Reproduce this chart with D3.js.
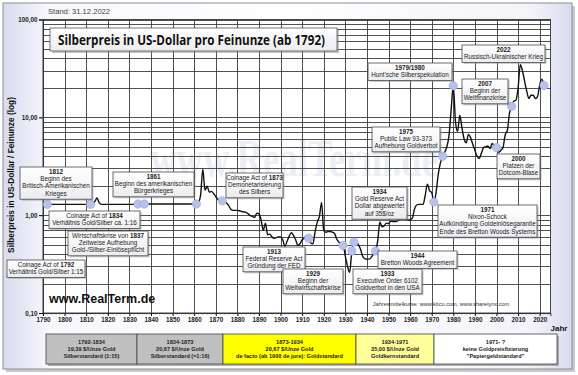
<!DOCTYPE html>
<html>
<head>
<meta charset="utf-8">
<script src="https://cdn.jsdelivr.net/npm/d3@7"></script>
<style>
body { margin: 0; background: #fff; }
svg text { font-family: "Liberation Sans", Arial, sans-serif; }
</style>
</head>
<body>
<svg id="chart" width="578" height="375"></svg>
<script>

// silver price, yearly averages (USD per troy ounce)
var years = [1792, 1800, 1810, 1813, 1814, 1815, 1816, 1817, 1825, 1833, 1834, 1845, 1855, 1861,
    1862, 1863, 1864, 1865, 1866, 1867, 1868, 1869, 1870, 1871, 1872, 1873, 1874, 1875, 1876, 1877,
    1878, 1879, 1880, 1881, 1882, 1883, 1884, 1885, 1886, 1887, 1888, 1889, 1890, 1891, 1892, 1893,
    1894, 1895, 1896, 1897, 1898, 1899, 1900, 1901, 1902, 1903, 1904, 1905, 1906, 1907, 1908, 1909,
    1910, 1911, 1912, 1913, 1914, 1915, 1916, 1917, 1918, 1919, 1920, 1921, 1922, 1923, 1924, 1925,
    1926, 1927, 1928, 1929, 1930, 1931, 1932, 1933, 1934, 1935, 1936, 1937, 1938, 1939, 1940, 1941,
    1942, 1943, 1944, 1945, 1946, 1947, 1948, 1949, 1950, 1951, 1952, 1953, 1954, 1955, 1956, 1957,
    1958, 1959, 1960, 1961, 1962, 1963, 1964, 1965, 1966, 1967, 1968, 1969, 1970, 1971, 1972, 1973,
    1974, 1975, 1976, 1977, 1978, 1979, 1980, 1981, 1982, 1983, 1984, 1985, 1986, 1987, 1988, 1989,
    1990, 1991, 1992, 1993, 1994, 1995, 1996, 1997, 1998, 1999, 2000, 2001, 2002, 2003, 2004, 2005,
    2006, 2007, 2008, 2009, 2010, 2011, 2012, 2013, 2014, 2015, 2016, 2017, 2018, 2019, 2020, 2021, 2022];
var prices = [1.29, 1.29, 1.29, 1.29, 1.38, 1.50, 1.34, 1.29, 1.29, 1.29, 1.30, 1.30, 1.30, 1.30,
    1.35, 1.62, 2.95, 1.80, 1.98, 1.72, 1.75, 1.66, 1.55, 1.45, 1.42, 1.40, 1.36, 1.33, 1.25, 1.15,
    1.12, 1.12, 1.12, 1.11, 1.09, 1.08, 1.07, 1.03, 0.99, 0.97, 0.95, 1.05, 1.03, 0.89, 0.70, 0.83,
    0.63, 0.64, 0.60, 0.58, 0.59, 0.60, 0.60, 0.56, 0.48, 0.54, 0.61, 0.66, 0.62, 0.56, 0.49, 0.51,
    0.56, 0.58, 0.62, 0.58, 0.52, 0.51, 0.68, 0.85, 0.97, 1.35, 0.70, 0.67, 0.68, 0.68, 0.67, 0.65,
    0.57, 0.53, 0.50, 0.49, 0.38, 0.30, 0.26, 0.43, 0.53, 0.53, 0.50, 0.45, 0.38, 0.36, 0.355, 0.355,
    0.37, 0.40, 0.43, 0.55, 0.85, 0.76, 0.78, 0.83, 0.82, 0.87, 0.86, 0.86, 0.87, 0.90, 0.92, 0.93,
    0.90, 0.89, 0.90, 0.93, 1.15, 1.27, 1.29, 1.29, 1.29, 1.60, 2.07, 1.78, 1.70, 1.36, 1.70, 2.60,
    3.40, 4.00, 4.40, 5.00, 6.50, 12.0, 21.0, 9.0, 7.2, 10.5, 7.8, 6.0, 5.5, 6.7, 6.2, 5.3,
    4.6, 4.0, 3.8, 4.3, 4.9, 5.0, 5.1, 4.8, 5.4, 5.1, 4.9, 4.4, 4.6, 4.9, 6.6, 7.3,
    11.0, 13.0, 14.6, 15.0, 20.0, 34.5, 30.0, 23.5, 18.5, 15.6, 16.8, 16.8, 15.6, 16.3, 21.5, 24.5, 21.2];

// marked events
var eventYears  = [1792, 1812, 1834, 1837, 1861, 1873, 1913, 1929, 1933, 1934, 1944, 1971, 1975, 1980, 2000, 2007, 2022];
var eventPrices = [1.29, 1.29, 1.30, 1.30, 1.30, 1.40, 0.58, 0.49, 0.43, 0.53, 0.43, 1.36, 4.0, 21.0, 4.9, 13.0, 21.2];

var xTickYears = d3.range(1790, 2021, 10);
var yTickValues = [0.1, 1, 10, 100];

// annotation texts (*...* = bold)
var notes = [
    ["*1812*", "Beginn des", "Britisch-Amerikanischen", "Krieges"],
    ["*1861*", "Beginn des amerikanischen", "Bürgerkrieges"],
    ["Coinage Act of *1834*", "Verhältnis Gold/Silber ca. 1:16"],
    ["Wirtschaftskrise von *1837*", "Zeitweise Aufhebung", "Gold-/Silber-Einlösepflicht"],
    ["Coinage Act of *1792*", "Verhältnis Gold/Silber 1:15"],
    ["Coinage Act of *1873*", "Demonetarisierung", "des Silbers"],
    ["*1913*", "Federal Reserve Act", "Gründung der FED"],
    ["*1929*", "Beginn der", "Weltwirtschaftskrise"],
    ["*1934*", "Gold Reserve Act", "Dollar abgewertet", "auf 35$/oz"],
    ["*1933*", "Executive Order 6102", "Goldverbot in den USA"],
    ["*1944*", "Bretton Woods Agreement"],
    ["*1971*", "Nixon-Schock", "Aufkündigung Goldeinlösegarantie", "Ende des Bretton Woods Systems"],
    ["*1975*", "Public Law 93-373", "Aufhebung Goldverbot"],
    ["*1979/1980*", "Hunt'sche Silberspekulation"],
    ["*2007*", "Beginn der", "Weltfinanzkrise"],
    ["*2022*", "Russisch-Ukrainischer Krieg"],
    ["*2000*", "Platzen der", "Dotcom-Blase"]
];
// box layout: center x, top, width
var notePos = [[56, 167, 72], [153.5, 172, 81], [94.5, 211, 91], [108, 231, 80], [46, 260, 78],
    [254.5, 173, 57], [274, 247, 62], [313, 269, 60], [379.5, 187, 55], [387.5, 269, 69],
    [417.5, 251, 79], [487.5, 205, 99], [406, 127, 68], [410, 63, 84], [485, 79, 46],
    [503.5, 45, 83], [518.5, 154, 43]];

// monetary eras under the chart
var eraYears  = ["1792-1834", "1834-1873", "1873-1934", "1934-1971", "1971- ?"];
var eraGold   = ["19,39 $/Unze Gold", "20,67 $/Unze Gold", "20,67 $/Unze Gold", "35,00 $/Unze Gold", "keine Goldpreisfixierung"];
var eraSystem = ["Silberstandard (1:15)", "Silberstandard (≈1:16)", "de facto (ab 1900 de jure): Goldstandard", "Goldkernstandard", "\"Papiergeldstandard\""];
var eraEdges  = [46, 137, 223, 356, 434, 557];
var eraColors = ["#c0c0c0", "#c0c0c0", "#ffff00", "#ffff99", "#ffffff"];

var svg = d3.select("#chart");
var defs = svg.append("defs");

var pg = defs.append("linearGradient").attr("id", "panelGrad");
pg.append("stop").attr("offset", "0%").attr("stop-color", "#d9dbee");
pg.append("stop").attr("offset", "8%").attr("stop-color", "#f7f7fc");
pg.append("stop").attr("offset", "50%").attr("stop-color", "#ffffff");
pg.append("stop").attr("offset", "93%").attr("stop-color", "#f3f3fa");
pg.append("stop").attr("offset", "100%").attr("stop-color", "#d9dbee");

var bg = defs.append("linearGradient").attr("id", "boxGrad").attr("x1", 0).attr("y1", 0).attr("x2", 0).attr("y2", 1);
bg.append("stop").attr("offset", "0%").attr("stop-color", "#ffffff");
bg.append("stop").attr("offset", "100%").attr("stop-color", "#ececf0");

// panel
svg.append("rect").attr("x", 6).attr("y", 6).attr("width", 569).attr("height", 366).attr("fill", "#c9c9cf");
svg.append("rect").attr("x", 3).attr("y", 3).attr("width", 569).attr("height", 366)
    .attr("fill", "url(#panelGrad)").attr("stroke", "#8d8d95").attr("stroke-width", 1);

var plotLeft = 43, plotRight = 550.5, plotTop = 19.5, plotBottom = 313;

var x = d3.scaleLinear().domain([1790, 2025]).range([plotLeft, plotRight]);
var y = d3.scaleLog().domain([0.1, 100]).range([plotBottom, plotTop]);

svg.append("rect").attr("x", plotLeft).attr("y", plotTop).attr("width", plotRight - plotLeft)
    .attr("height", plotBottom - plotTop).attr("fill", "#fff");

// watermark
svg.append("text").attr("x", 150).attr("y", 176).text("www.RealTerm.de")
    .style("font-family", "'Liberation Serif', serif").attr("font-weight", "bold")
    .attr("font-size", 52).attr("textLength", 288).attr("lengthAdjust", "spacingAndGlyphs")
    .attr("fill", "#eceef6");

// grid
svg.append("g").selectAll("line").data(y.ticks()).enter().append("line")
    .attr("x1", plotLeft).attr("x2", plotRight)
    .attr("y1", function (d) { return Math.round(y(d)) + 0.5; })
    .attr("y2", function (d) { return Math.round(y(d)) + 0.5; })
    .attr("stroke", "#3c3c3c").attr("stroke-width", 0.9);

svg.append("g").selectAll("line").data(d3.range(1800, 2030, 10)).enter().append("line")
    .attr("x1", function (d) { return Math.round(x(d)) + 0.5; })
    .attr("x2", function (d) { return Math.round(x(d)) + 0.5; })
    .attr("y1", plotTop).attr("y2", plotBottom)
    .attr("stroke", "#3c3c3c").attr("stroke-width", 0.9);

// axes
var deLocale = d3.formatLocale({decimal: ",", thousands: ".", grouping: [3], currency: ["", "$"]});

var xAxis = svg.append("g")
    .attr("transform", "translate(0," + plotBottom + ")")
    .call(d3.axisBottom(x).tickValues(xTickYears).tickFormat(d3.format("d")).tickSize(3).tickPadding(2));
xAxis.selectAll("text").attr("font-size", 6.3).attr("font-weight", "bold").attr("fill", "#222")
    .style("font-family", "'Liberation Sans', Arial, sans-serif");
xAxis.select(".domain").attr("stroke", "#333");

svg.append("g").attr("transform", "translate(0," + plotBottom + ")")
    .selectAll("line").data(d3.range(1790, 2025, 2)).enter().append("line")
    .attr("x1", function (d) { return x(d); }).attr("x2", function (d) { return x(d); })
    .attr("y1", 0).attr("y2", 1.5).attr("stroke", "#555").attr("stroke-width", 0.6);

var yAxis = svg.append("g")
    .attr("transform", "translate(" + plotLeft + ",0)")
    .call(d3.axisLeft(y).tickValues(yTickValues).tickFormat(deLocale.format(".2f")).tickSize(4).tickPadding(1.5));
yAxis.selectAll("text").attr("font-size", 6.3).attr("font-weight", "bold").attr("fill", "#222")
    .style("font-family", "'Liberation Sans', Arial, sans-serif");
yAxis.select(".domain").attr("stroke", "#333");

svg.append("rect").attr("x", plotLeft).attr("y", plotTop).attr("width", plotRight - plotLeft)
    .attr("height", plotBottom - plotTop)
    .attr("fill", "none").attr("stroke", "#333").attr("stroke-width", 0.9);

// price line
var series = years.map(function (yr, i) { return [yr, prices[i]]; });
svg.append("path").datum(series)
    .attr("d", d3.line().x(function (d) { return x(d[0]); }).y(function (d) { return y(d[1]); }).curve(d3.curveMonotoneX))
    .attr("fill", "none").attr("stroke", "#111").attr("stroke-width", 1.4);

// event markers
svg.append("g").selectAll("circle").data(eventYears).enter().append("circle")
    .attr("cx", function (d) { return x(d); })
    .attr("cy", function (d, i) { return y(eventPrices[i]); })
    .attr("r", 4.2)
    .attr("fill", "#b7c2ec").attr("stroke", "#98a5d6").attr("stroke-width", 0.6);

// annotation boxes
var lh = 7.4;
notes.forEach(function (lines, i) {
    var p = notePos[i], h = lines.length * lh + 2.6, x0 = p[0] - p[2] / 2;
    var g = svg.append("g");
    g.append("rect").attr("x", x0 + 1.5).attr("y", p[1] + 1.5).attr("width", p[2]).attr("height", h)
        .attr("fill", "#8e8e8e").attr("opacity", 0.5);
    g.append("rect").attr("x", x0).attr("y", p[1]).attr("width", p[2]).attr("height", h)
        .attr("fill", "url(#boxGrad)").attr("stroke", "#4a4a4a").attr("stroke-width", 0.8);
    lines.forEach(function (l, j) {
        var t = g.append("text").attr("x", p[0]).attr("y", p[1] + 6.6 + j * lh)
            .attr("text-anchor", "middle").attr("font-size", 6.3).attr("fill", "#1a1a1a");
        l.split("*").forEach(function (s, k) {
            if (s) t.append("tspan").attr("font-weight", k % 2 ? "bold" : "normal").text(s);
        });
    });
});

// title
svg.append("rect").attr("x", 52).attr("y", 30).attr("width", 287).attr("height", 23).attr("fill", "#8e8e8e").attr("opacity", 0.5);
svg.append("rect").attr("x", 50).attr("y", 28).attr("width", 287).attr("height", 23)
    .attr("fill", "url(#boxGrad)").attr("stroke", "#555").attr("stroke-width", 0.8);
svg.append("text").attr("x", 58).attr("y", 44.5).text("Silberpreis in US-Dollar pro Feinunze (ab 1792)")
    .style("font-family", "'Open Sans', 'Noto Sans', sans-serif").attr("font-weight", "bold")
    .attr("font-size", 13.5).attr("textLength", 267).attr("lengthAdjust", "spacingAndGlyphs").attr("fill", "#111");

svg.append("text").attr("x", 48).attr("y", 13.5).text("Stand: 31.12.2022")
    .attr("font-size", 7.6).attr("fill", "#444");

// y label
svg.append("text").attr("transform", "translate(14,175) rotate(-90)").attr("text-anchor", "middle")
    .text("Silberpreis in US-Dollar / Feinunze (log)")
    .attr("font-size", 8.3).attr("font-weight", "bold").attr("fill", "#111");

svg.append("text").attr("x", 49).attr("y", 303).text("www.RealTerm.de")
    .attr("font-size", 12.5).attr("font-weight", "bold").attr("fill", "#111");

svg.append("text").attr("x", 441).attr("y", 306).attr("text-anchor", "middle")
    .text("Jahresmittelkurse: www.kitco.com, www.sharelynx.com")
    .attr("font-size", 5.6).attr("fill", "#333");

svg.append("text").attr("x", 559).attr("y", 331).attr("text-anchor", "middle").text("Jahr")
    .attr("font-size", 8).attr("font-weight", "bold").attr("fill", "#111");

// era table
var tb = svg.append("g");
tb.append("rect").attr("x", eraEdges[0] + 2).attr("y", 336).attr("width", eraEdges[5] - eraEdges[0]).attr("height", 30)
    .attr("fill", "#777").attr("opacity", 0.55);
eraYears.forEach(function (e, i) {
    var x0 = eraEdges[i], w = eraEdges[i + 1] - eraEdges[i], cx = x0 + w / 2;
    tb.append("rect").attr("x", x0).attr("y", 334).attr("width", w).attr("height", 30)
        .attr("fill", eraColors[i]).attr("stroke", "#444").attr("stroke-width", 0.8);
    [e, eraGold[i], eraSystem[i]].forEach(function (s, j) {
        tb.append("text").attr("x", cx).attr("y", 343.5 + j * 7.2).attr("text-anchor", "middle")
            .text(s).attr("font-size", 5.6).attr("font-weight", "bold").attr("fill", "#222");
    });
});

</script>
</body>
</html>
